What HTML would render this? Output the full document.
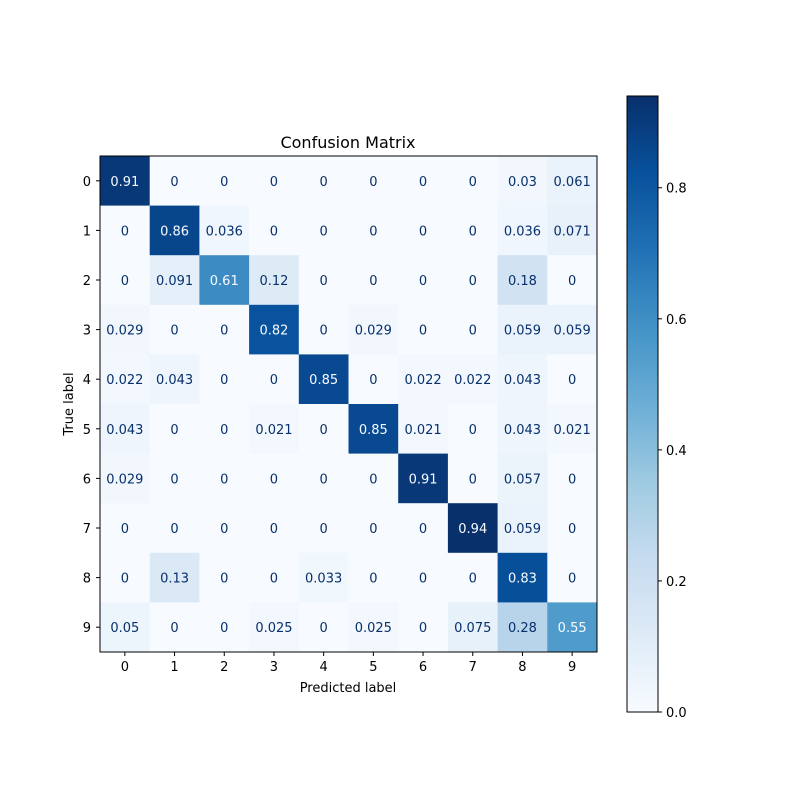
<!DOCTYPE html>
<html><head><meta charset="utf-8"><style>
body{margin:0;background:#fff;font-family:"Liberation Sans","DejaVu Sans",sans-serif}
svg text{font-family:"DejaVu Sans","Liberation Sans",sans-serif}
</style></head><body>
<svg id="chart" width="800" height="800" xmlns="http://www.w3.org/2000/svg">
<defs><linearGradient id="cbg" x1="0" y1="1" x2="0" y2="0">
<stop offset="0" stop-color="rgb(247,251,255)"/><stop offset="0.125" stop-color="rgb(222,235,247)"/><stop offset="0.25" stop-color="rgb(198,219,239)"/><stop offset="0.375" stop-color="rgb(158,202,225)"/><stop offset="0.5" stop-color="rgb(107,174,214)"/><stop offset="0.625" stop-color="rgb(66,146,198)"/><stop offset="0.75" stop-color="rgb(33,113,181)"/><stop offset="0.875" stop-color="rgb(8,81,156)"/><stop offset="1" stop-color="rgb(8,48,107)"/>
</linearGradient></defs>
<g id="cells"></g>
<rect x="100" y="156" width="497" height="496" fill="none" stroke="#000" stroke-width="1"/>
<text x="348" y="148" text-anchor="middle" font-size="16">Confusion Matrix</text>
<text x="348" y="692" text-anchor="middle" font-size="13">Predicted label</text>
<text x="73" y="404" text-anchor="middle" font-size="13" transform="rotate(-90 73 404)">True label</text>
<g id="axes"></g>
<rect x="627" y="96" width="31" height="616" fill="url(#cbg)" stroke="#000" stroke-width="1"/>
<g id="cbticks"></g>
</svg>
<script>
const labels=["0","1","2","3","4","5","6","7","8","9"];
const row0=[0.91,0,0,0,0,0,0,0,0.03,0.061];
const row1=[0,0.86,0.036,0,0,0,0,0,0.036,0.071];
const row2=[0,0.091,0.61,0.12,0,0,0,0,0.18,0];
const row3=[0.029,0,0,0.82,0,0.029,0,0,0.059,0.059];
const row4=[0.022,0.043,0,0,0.85,0,0.022,0.022,0.043,0];
const row5=[0.043,0,0,0.021,0,0.85,0.021,0,0.043,0.021];
const row6=[0.029,0,0,0,0,0,0.91,0,0.057,0];
const row7=[0,0,0,0,0,0,0,0.94,0.059,0];
const row8=[0,0.13,0,0,0.033,0,0,0,0.83,0];
const row9=[0.05,0,0,0.025,0,0.025,0,0.075,0.28,0.55];
const cbTicks=[0,0.2,0.4,0.6,0.8];
const matrix=[row0,row1,row2,row3,row4,row5,row6,row7,row8,row9];
const NS="http://www.w3.org/2000/svg";
const x0=100,y0=156,W=497,H=496,n=labels.length,cw=W/n,ch=H/n;
const vmin=0,vmax=Math.max(...matrix.flat());
const stops=[[247,251,255],[222,235,247],[198,219,239],[158,202,225],[107,174,214],[66,146,198],[33,113,181],[8,81,156],[8,48,107]];
function cmap(t){t=Math.max(0,Math.min(1,t));const p=t*8,i=Math.min(7,Math.floor(p)),f=p-i;const c=stops[i].map((v,k)=>Math.round(v+(stops[i+1][k]-v)*f));return `rgb(${c})`;}
const xs=j=>x0+cw*j, ys=i=>y0+ch*i;
function mk(tag,attrs,parent){const e=document.createElementNS(NS,tag);for(const k in attrs)e.setAttribute(k,attrs[k]);parent.appendChild(e);return e;}
const cells=document.getElementById('cells'),axes=document.getElementById('axes'),cb=document.getElementById('cbticks');
matrix.forEach((row,i)=>row.forEach((v,j)=>{
 const r=mk('rect',{x:xs(j),y:ys(i),width:cw+0.5,height:ch+0.5,fill:cmap((v-vmin)/(vmax-vmin))},cells);
 
 
 const t=mk('text',{x:xs(j)+cw/2,y:ys(i)+ch/2+5,'text-anchor':'middle','font-size':'13',fill:v>(vmax+vmin)/2?'#f7fbff':'rgb(8,48,107)'},cells);
 t.textContent=String(v);
 
 
}));
labels.forEach((l,k)=>{
 mk('line',{x1:xs(k)+cw/2,x2:xs(k)+cw/2,y1:652,y2:656,stroke:'#000'},axes);
 const tx=mk('text',{x:xs(k)+cw/2,y:671,'text-anchor':'middle','font-size':'13'},axes);tx.textContent=l;
 
 
 mk('line',{x1:96,x2:100,y1:ys(k)+ch/2,y2:ys(k)+ch/2,stroke:'#000'},axes);
 const ty=mk('text',{x:91,y:ys(k)+ch/2+5,'text-anchor':'end','font-size':'13'},axes);ty.textContent=l;
 
 
});
const cby=v=>712-616*(v-vmin)/(vmax-vmin);
cbTicks.forEach(v=>{
 mk('line',{x1:658,x2:662,y1:cby(v),y2:cby(v),stroke:'#000'},cb);
 const t=mk('text',{x:666,y:cby(v)+5,'font-size':'13'},cb);t.textContent=v.toFixed(1);
 
 
});
</script>
</body></html>
